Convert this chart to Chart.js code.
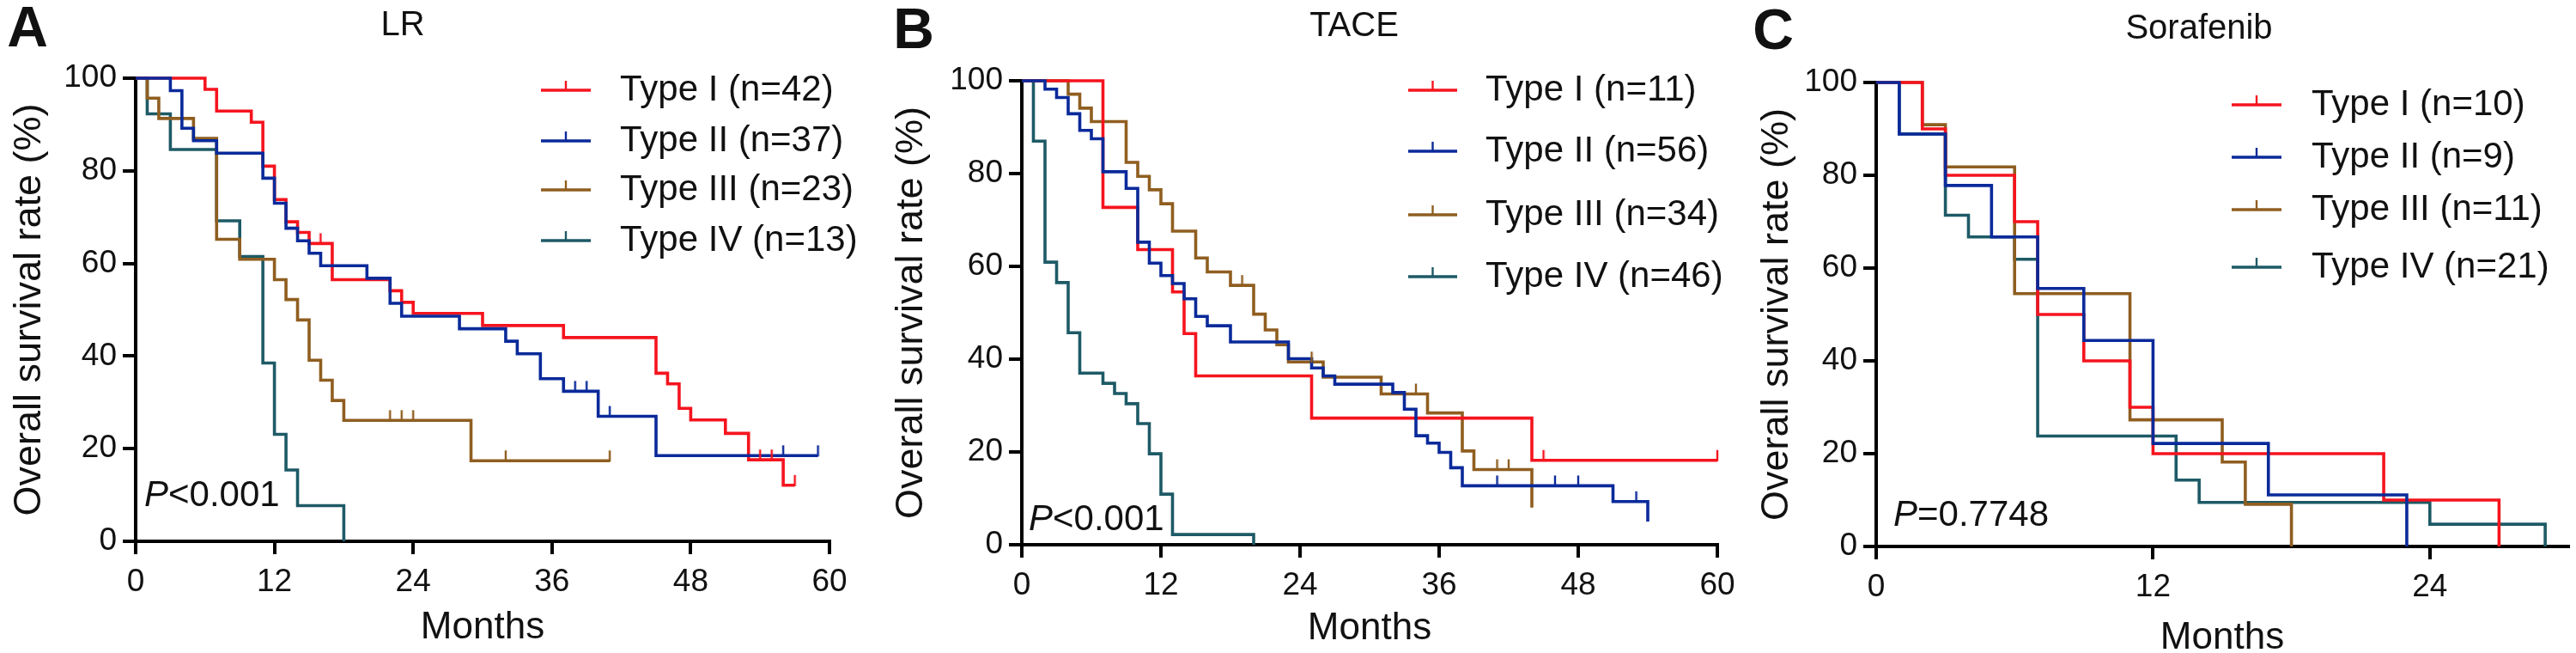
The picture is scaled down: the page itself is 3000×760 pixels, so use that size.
<!DOCTYPE html>
<html>
<head>
<meta charset="utf-8">
<script src="https://cdn.jsdelivr.net/npm/chart.js@4.4.1/dist/chart.umd.min.js"></script>
<style>
html,body{margin:0;padding:0;background:#ffffff;}
#wrap{position:relative;width:3000px;height:760px;overflow:hidden;background:#ffffff;}
#wrap canvas{position:absolute;top:0;}
</style>
</head>
<body>
<div id="wrap">
  <canvas id="cA" width="1040" height="760" style="left:0px"></canvas>
  <canvas id="cB" width="1060" height="760" style="left:1000px"></canvas>
  <canvas id="cC" width="1000" height="760" style="left:2000px"></canvas>
</div>
<script>
// ---------------- DATA ----------------
const typeNames = ['Type I', 'Type II', 'Type III', 'Type IV'];
const yTicksPct = [0, 20, 40, 60, 80, 100];
const xTicksMonths = [0, 12, 24, 36, 48, 60];
const xTicksMonthsC = [0, 12, 24];
const xTitle = 'Months';
const yTitle = 'Overall survival rate (%)';

// Panel A: LR  [month, survival %]
const lrTitle = 'LR';
const lrN = [42, 37, 23, 13];
const lrP = '<0.001';
const lrTypeI = [[0,100],[6,97.6],[7,92.9],[10,90.5],[11,81.0],[12,73.8],[13,69.0],[14,66.7],[15,64.3],[17,56.5],[22,54.1],[23,51.6],[24,49.2],[30,46.6],[37,44.0],[45,36.3],[46,34.0],[47,28.7],[48,26.2],[51,23.3],[53,17.6],[56,12.1],[57,12.1]];
const lrTypeII = [[0,100],[3,97.3],[4,89.2],[5,86.5],[7,83.8],[11,78.4],[12,73.0],[13,67.6],[14,64.9],[15,62.2],[16,59.5],[20,56.8],[22,51.4],[23,48.6],[28,45.9],[32,43.2],[33,40.5],[35,35.1],[37,32.4],[40,27.0],[45,18.5],[59,18.5]];
const lrTypeIII = [[0,100],[1,95.7],[2,91.3],[5,87.0],[7,65.2],[9,60.9],[12,56.5],[13,52.2],[14,47.8],[15,39.1],[16,34.8],[17,30.4],[18,26.1],[29,17.4],[41,17.4]];
const lrTypeIV = [[0,100],[1,92.3],[3,84.6],[7,69.2],[9,61.5],[11,38.5],[12,23.1],[13,15.4],[14,7.7],[18,0]];
const lrCensI = [16, 54, 55, 57];
const lrCensII = [38, 39, 41, 56, 59];
const lrCensIII = [22, 23, 24, 32, 41];
const lrCensIV = [];

// Panel B: TACE
const taceTitle = 'TACE';
const taceN = [11, 56, 34, 46];
const taceP = '<0.001';
const taceTypeI = [[0,100],[7,72.7],[10,63.6],[13,54.5],[14,45.5],[15,36.4],[25,27.3],[44,18.2],[60,18.2]];
const taceTypeII = [[0,100],[2,98.2],[3,96.4],[4,92.9],[5,89.3],[6,87.5],[7,80.4],[9,76.8],[10,65.2],[11,60.7],[12,58.0],[13,56.3],[14,53.0],[15,49.2],[16,47.2],[18,43.7],[23,40.1],[25,38.1],[26,36.4],[27,34.6],[32,32.8],[33,29.2],[34,23.5],[35,21.9],[36,19.9],[37,16.6],[38,12.7],[51,9.3],[54,5.0]];
const taceTypeIII = [[0,100],[4,97.1],[5,94.1],[6,91.2],[9,82.4],[10,79.4],[11,76.5],[12,73.5],[13,67.6],[15,61.8],[16,58.8],[18,55.9],[20,49.7],[21,46.3],[22,43.1],[23,39.4],[26,36.1],[31,32.5],[35,28.4],[38,20.2],[39,16.2],[44,8.0]];
const taceTypeIV = [[0,100],[1,87.0],[2,60.9],[3,56.5],[4,45.7],[5,37.0],[7,34.8],[8,32.6],[9,30.4],[10,26.1],[11,19.6],[12,10.9],[13,2.2],[20,0]];
const taceCensI = [45, 60];
const taceCensII = [41, 46, 48, 53];
const taceCensIII = [19, 25, 34, 41, 42];
const taceCensIV = [];

// Panel C: Sorafenib
const sorTitle = 'Sorafenib';
const sorN = [10, 9, 11, 21];
const sorP = '=0.7748';
const sorTypeI = [[0,100],[2,90],[3,80],[6,70],[7,50],[9,40],[11,30],[12,20],[22,10],[27,0]];
const sorTypeII = [[0,100],[1,88.9],[3,77.8],[5,66.7],[7,55.6],[9,44.4],[12,22.2],[17,11.1],[23,0]];
const sorTypeIII = [[0,100],[2,90.9],[3,81.8],[6,54.5],[11,27.3],[15,18.2],[16,9.1],[18,0]];
const sorTypeIV = [[0,100],[1,88.9],[3,71.4],[4,66.7],[6,61.9],[7,23.8],[13,14.3],[14,9.5],[24,4.8],[29,0]];
const sorCens = [[], [], [], []];

// ---------------- STYLE ----------------
const colors = ['#f5141e', '#0a2a9a', '#8f5e20', '#1d5a66'];
const drawOrder = [2, 1, 3, 4];   // lower = on top
const FONT = '"Liberation Sans", Arial, Helvetica, sans-serif';
const INK = '#111111';

Chart.defaults.font.family = FONT;
Chart.defaults.color = INK;

function levelAt(curve, t) {
  let v = curve[0][1];
  for (const p of curve) { if (p[0] <= t) v = p[1]; }
  return v;
}
function tickImage(color) {
  const c = document.createElement('canvas');
  c.width = 4; c.height = 26;
  const g = c.getContext('2d');
  g.fillStyle = color;
  g.fillRect(0.8, 1, 2.4, 13);
  return c;
}

const decor = {
  id: 'decor',
  afterDraw(chart, args, o) {
    const ctx = chart.ctx;
    ctx.save();
    ctx.fillStyle = INK;
    ctx.textAlign = 'center';
    ctx.textBaseline = 'middle';
    ctx.font = 'bold 66px ' + FONT;
    ctx.fillText(o.letter, o.letterX, o.letterY);
    ctx.font = '40px ' + FONT;
    ctx.fillText(o.title, o.titleX, o.titleY);
    // P value
    ctx.textAlign = 'left';
    ctx.textBaseline = 'alphabetic';
    ctx.font = 'italic 42px ' + FONT;
    ctx.fillText('P', o.pX, o.pY);
    const w = ctx.measureText('P').width;
    ctx.font = '42px ' + FONT;
    ctx.fillText(o.pText, o.pX + w, o.pY);
    // legend
    ctx.textBaseline = 'middle';
    ctx.font = '42px ' + FONT;
    for (let i = 0; i < 4; i++) {
      const y = o.rows[i];
      ctx.strokeStyle = colors[i];
      ctx.lineWidth = 3.6;
      ctx.beginPath();
      ctx.moveTo(o.lx1, y); ctx.lineTo(o.lx2, y);
      ctx.stroke();
      ctx.lineWidth = 2.4;
      const mx = (o.lx1 + o.lx2) / 2;
      ctx.beginPath();
      ctx.moveTo(mx, y); ctx.lineTo(mx, y - 11);
      ctx.stroke();
      ctx.fillStyle = INK;
      ctx.fillText(typeNames[i] + ' (n=' + o.n[i] + ')', o.tx, y);
    }
    ctx.restore();
  }
};

function makePanel(id, curves, censors, n, pText, title, xMax, xTickList, L) {
  const canvas = document.getElementById(id);
  const W = canvas.width, H = canvas.height;
  const datasets = [];
  curves.forEach((c, i) => {
    datasets.push({
      type: 'line',
      data: c.map(p => ({x: p[0], y: p[1]})),
      borderColor: colors[i], borderWidth: 3.6, stepped: 'before',
      pointRadius: 0, fill: false, tension: 0, order: drawOrder[i], clip: false
    });
  });
  censors.forEach((times, i) => {
    if (!times.length) return;
    datasets.push({
      type: 'line', showLine: false,
      data: times.map(t => ({x: t, y: levelAt(curves[i], t)})),
      pointStyle: tickImage(colors[i]), pointRadius: 6,
      borderColor: colors[i], backgroundColor: colors[i], order: 0, clip: false
    });
  });
  const axisGrid = {display: true, drawOnChartArea: false, drawTicks: true, tickLength: 15,
                    tickWidth: 4, tickColor: '#000', color: '#000', lineWidth: 4};
  return new Chart(canvas, {
    type: 'line',
    data: {datasets},
    plugins: [decor],
    options: {
      responsive: false, animation: false, devicePixelRatio: 1, events: [],
      layout: {padding: {left: 0, top: L.top, right: W - L.right, bottom: 0}},
      plugins: {
        legend: {display: false}, tooltip: {enabled: false},
        decor: {letter: L.letter, letterX: L.letterX, letterY: L.letterY,
                title: title, titleX: L.titleX, titleY: L.titleY,
                pText: pText, pX: L.pX, pY: L.pY,
                lx1: L.lx1, lx2: L.lx2, tx: L.tx, rows: L.rows, n: n}
      },
      scales: {
        x: {
          type: 'linear', min: 0, max: xMax,
          afterFit: s => { s.height = H - L.bottom; },
          afterBuildTicks: s => { s.ticks = xTickList.map(v => ({value: v})); },
          grid: axisGrid,
          border: {display: true, color: '#000', width: 4},
          ticks: {color: INK, font: {size: 37, family: FONT}, padding: 11, maxRotation: 0, autoSkip: false},
          title: {display: true, text: xTitle, color: INK,
                  font: {size: 44, family: FONT, lineHeight: L.xtLH},
                  padding: {top: 0, bottom: L.xtPad}}
        },
        y: {
          type: 'linear', min: 0, max: 100,
          afterFit: s => { s.width = L.left; },
          afterBuildTicks: s => { s.ticks = yTicksPct.map(v => ({value: v})); },
          grid: axisGrid,
          border: {display: true, color: '#000', width: 4},
          ticks: {color: INK, font: {size: 37, family: FONT}, padding: 7, autoSkip: false},
          title: {display: true, text: yTitle, color: INK,
                  font: {size: 45, family: FONT, lineHeight: 1},
                  padding: {top: L.ytPad, bottom: 0}}
        }
      }
    }
  });
}

makePanel('cA', [lrTypeI, lrTypeII, lrTypeIII, lrTypeIV], [lrCensI, lrCensII, lrCensIII, lrCensIV],
  lrN, lrP, lrTitle, 60, xTicksMonths,
  {left: 158, right: 966, top: 91, bottom: 630, letter: 'A', letterX: 32, letterY: 36,
   titleX: 469, titleY: 30, pX: 168, pY: 589, lx1: 630, lx2: 688, tx: 722,
   rows: [105, 164, 221, 280], xtLH: 1, xtPad: 7, ytPad: 12});

makePanel('cB', [taceTypeI, taceTypeII, taceTypeIII, taceTypeIV], [taceCensI, taceCensII, taceCensIII, taceCensIV],
  taceN, taceP, taceTitle, 60, xTicksMonths,
  {left: 190, right: 1000, top: 94, bottom: 634, letter: 'B', letterX: 64, letterY: 38,
   titleX: 577, titleY: 31, pX: 198, pY: 617, lx1: 640, lx2: 697, tx: 730,
   rows: [105, 176, 250, 322], xtLH: 1, xtPad: 6, ytPad: 39});

makePanel('cC', [sorTypeI, sorTypeII, sorTypeIII, sorTypeIV], sorCens,
  sorN, sorP, sorTitle, 30, xTicksMonthsC,
  {left: 185, right: 991, top: 96, bottom: 636, letter: 'C', letterX: 65, letterY: 39,
   titleX: 561, titleY: 34, pX: 205, pY: 612, lx1: 599, lx2: 657, tx: 692,
   rows: [122, 183, 244, 311], xtLH: 0.8, xtPad: 0, ytPad: 47});
</script>
</body>
</html>
